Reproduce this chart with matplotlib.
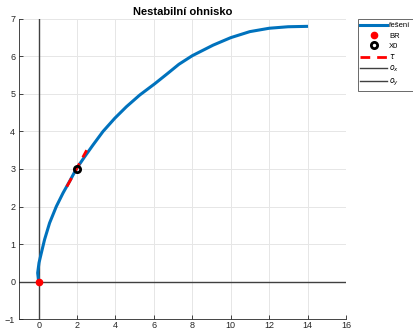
import numpy as np
import matplotlib
matplotlib.use("Agg")
from matplotlib import pyplot as plt

plt.rcParams['font.family'] = ['Liberation Sans', 'DejaVu Sans']

# trajectory of the unstable focus
traj_x = [0, -0.05, 0.02, 0.14, 0.31, 0.57, 0.92, 1.27, 1.61, 1.96, 2.40,
          2.83, 3.35, 3.96, 4.57, 5.26, 6.04, 6.70, 7.30, 8.0, 9.08, 10.0,
          10.99, 12.0, 12.98, 13.94]
traj_y = [0, 0.23, 0.5, 0.76, 1.12, 1.56, 2.0, 2.36, 2.67, 3.0, 3.33,
          3.64, 4.0, 4.35, 4.66, 4.97, 5.27, 5.54, 5.79, 6.02, 6.30, 6.50,
          6.66, 6.75, 6.79, 6.80]

br = (0, 0)        # equilibrium point
x0 = (2, 3)        # initial condition
tau_x = [1.47, 2.5]  # tangent vector through X0
tau_y = [2.53, 3.5]

xlim = (-1, 16)
ylim = (-1, 7)

fig = plt.figure(figsize=(4.13, 3.31), dpi=100)
ax = fig.add_axes([0.047, 0.036, 0.791, 0.907])

ax.plot(traj_x, traj_y, color='#0072BD', lw=2.2, label='řešení', zorder=3,
        solid_joinstyle='round')
ax.plot(*br, 'o', color='red', ms=4.5, label='BR', zorder=5)
ax.plot(*x0, 'o', color='black', mfc='none', mew=2, ms=4.5, label='X0', zorder=5)
ax.plot(tau_x, tau_y, '--', color='red', lw=2, dashes=(3.5, 2.5), label=r'$\tau$', zorder=4)
ax.plot(xlim, [0, 0], color='#404040', lw=1, label=r'$o_x$', zorder=2)
ax.plot([0, 0], ylim, color='#404040', lw=1, label=r'$o_y$', zorder=2)

ax.set_xlim(*xlim)
ax.set_ylim(*ylim)
ax.set_xticks(np.arange(0, 17, 2))
ax.set_yticks(np.arange(-1, 8, 1))
ax.grid(True, color='#e6e6e6', lw=0.7)
ax.set_axisbelow(True)
for s in ['top', 'right']:
    ax.spines[s].set_visible(False)
for s in ['left', 'bottom']:
    ax.spines[s].set_color('#262626')
    ax.spines[s].set_linewidth(0.6)
ax.tick_params(direction='in', length=3, width=0.6, labelsize=6.5,
               colors='#262626', pad=1.5)
ax.tick_params(axis='y', pad=3)

ax.set_title('Nestabilní ohnisko', fontsize=8, fontweight='bold', pad=3)

leg = ax.legend(loc='upper left', bbox_to_anchor=(1.035, 0.998), fontsize=5.5,
                frameon=True, fancybox=False, handlelength=3.5, borderpad=0.35,
                labelspacing=0.35, handletextpad=0.3, borderaxespad=0)
leg.get_frame().set_edgecolor('#262626')
leg.get_frame().set_linewidth(0.6)

fig.savefig('out.png', dpi=100)
